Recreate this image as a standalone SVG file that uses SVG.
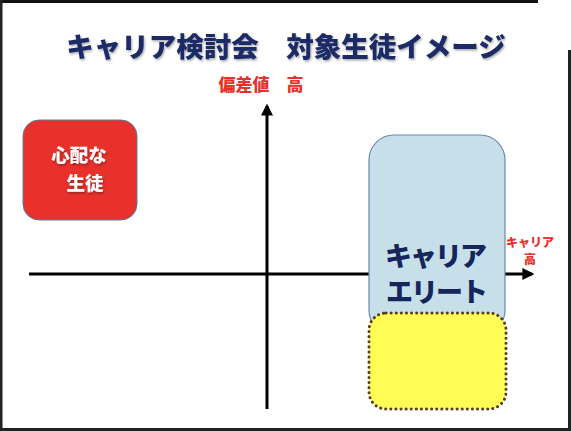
<svg xmlns="http://www.w3.org/2000/svg" width="571" height="431" viewBox="0 0 571 431">
<style>
.t{font-family:"Noto Sans CJK JP","Noto Sans CJK SC",sans-serif;font-weight:900}
.title{font-size:27.5px;fill:#1b2a66}
.red{fill:#e8312a}
.white{fill:#ffffff}
.navy{fill:#16265c}
.axis{stroke:#000;stroke-width:3;fill:none}
</style>
<defs>
<marker id="ah" viewBox="0 0 10 10" refX="8" refY="5" markerWidth="4" markerHeight="4" orient="auto" markerUnits="strokeWidth">
<path d="M0,0 L10,5 L0,10 z" fill="#000"/>
</marker>
<filter id="sh" x="-10%" y="-10%" width="130%" height="130%">
<feDropShadow dx="1" dy="1.5" stdDeviation="0.8" flood-color="#000" flood-opacity="0.35"/>
</filter>
</defs>
<rect x="0" y="0" width="571" height="431" fill="#fff"/>
<g id="frame">
<rect x="0" y="0" width="538" height="3" fill="#111"/>
<rect x="0" y="0" width="2.5" height="431" fill="#222"/>
<rect x="0" y="428" width="571" height="3" fill="#222"/>
<rect x="568" y="50" width="3" height="381" fill="#222"/>
</g>
<g id="title">
<text class="t title" x="286" y="57" text-anchor="middle" filter="url(#sh)">キャリア検討会　対象生徒イメージ</text>
</g>
<g id="connectors">
<line class="axis" x1="29" y1="274" x2="532" y2="274" marker-end="url(#ah)"/>
<line class="axis" x1="267" y1="409" x2="267" y2="106" marker-end="url(#ah)"/>
</g>
<g id="label-y">
<text class="t red" x="261" y="91" font-size="17" text-anchor="middle">偏差値　高</text>
</g>
<g id="label-x">
<text class="t red" font-size="12" text-anchor="middle"><tspan x="530" y="247">キャリア</tspan><tspan x="530" y="264">高</tspan></text>
</g>
<g id="worried">
<rect x="23" y="120" width="114" height="100" rx="16" fill="#e8312a" stroke="#5b7aa6" stroke-width="1"/>
<text class="t white" font-size="18.5" text-anchor="middle" filter="url(#sh)"><tspan x="79" y="162">心配な</tspan><tspan x="85" y="189.5">生徒</tspan></text>
</g>
<g id="elite">
<rect x="369" y="135" width="136" height="200" rx="25" fill="#c6dfe9" stroke="#6a88ab" stroke-width="1.2"/>
<text class="t navy" font-size="27" letter-spacing="-2" text-anchor="middle"><tspan x="435" y="266">キャリア</tspan><tspan x="436" y="302">エリート</tspan></text>
</g>
<g id="target">
<rect x="369" y="313" width="137" height="96" rx="17" fill="#fffc55" stroke="#5a3c1c" stroke-width="3" stroke-dasharray="0.1 5" stroke-linecap="round"/>
</g>
</svg>
